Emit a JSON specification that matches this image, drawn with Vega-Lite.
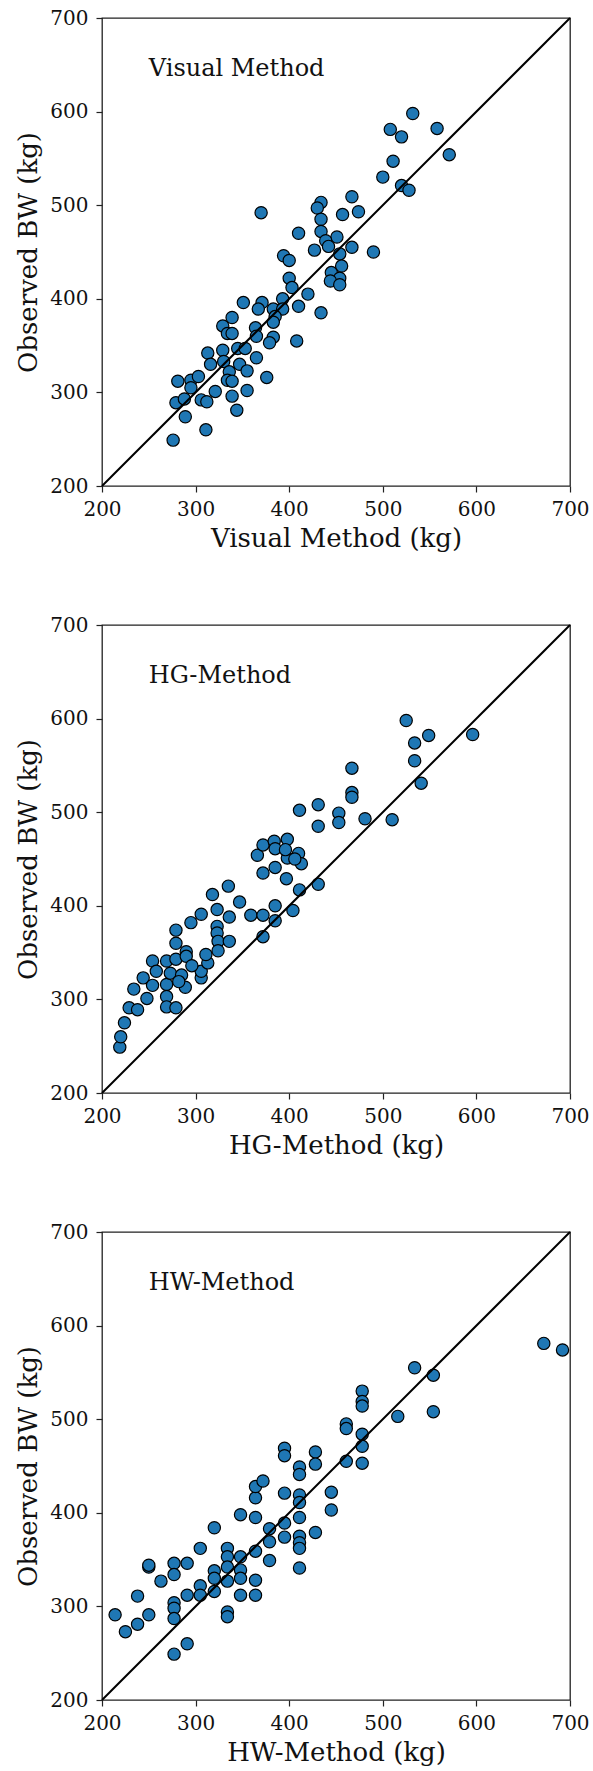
{
  "$schema": "https://vega.github.io/schema/vega-lite/v6.json",
  "background": "white",
  "padding": {"left": 15, "top": 7, "right": 0, "bottom": 0},
  "autosize": {"type": "pad"},
  "bounds": "flush",
  "spacing": 139,
  "datasets": {
    "visual": [
      {"x":370,"y":492},{"x":434,"y":503},{"x":430,"y":497},{"x":467,"y":509},{"x":474,"y":493},{"x":457,"y":490},{"x":434,"y":485},{"x":410,"y":470},{"x":434,"y":472},{"x":451,"y":466},{"x":439,"y":462},{"x":427,"y":452},{"x":442,"y":456},{"x":467,"y":455},{"x":490,"y":450},{"x":454,"y":448},{"x":394,"y":446},{"x":400,"y":441},{"x":456,"y":435},{"x":445,"y":428},{"x":454,"y":422},{"x":444,"y":419},{"x":454,"y":415},{"x":400,"y":422},{"x":403,"y":412},{"x":420,"y":405},{"x":393,"y":400},{"x":351,"y":396},{"x":371,"y":396},{"x":367,"y":389},{"x":383,"y":389},{"x":393,"y":389},{"x":410,"y":392},{"x":434,"y":385},{"x":339,"y":380},{"x":385,"y":381},{"x":383,"y":375},{"x":329,"y":371},{"x":364,"y":369},{"x":334,"y":363},{"x":339,"y":363},{"x":365,"y":360},{"x":383,"y":359},{"x":379,"y":353},{"x":408,"y":355},{"x":313,"y":342},{"x":329,"y":345},{"x":345,"y":347},{"x":353,"y":347},{"x":316,"y":330},{"x":330,"y":333},{"x":347,"y":330},{"x":365,"y":337},{"x":336,"y":322},{"x":355,"y":323},{"x":334,"y":313},{"x":339,"y":312},{"x":376,"y":316},{"x":281,"y":312},{"x":295,"y":313},{"x":303,"y":317},{"x":295,"y":305},{"x":279,"y":289},{"x":288,"y":293},{"x":306,"y":292},{"x":312,"y":290},{"x":321,"y":301},{"x":339,"y":296},{"x":355,"y":302},{"x":289,"y":274},{"x":344,"y":281},{"x":311,"y":260},{"x":276,"y":249},
      {"x":532,"y":598},{"x":508,"y":581},{"x":520,"y":573},{"x":558,"y":582},{"x":571,"y":554},{"x":511,"y":547},{"x":500,"y":530},{"x":520,"y":521},{"x":528,"y":516}
    ],
    "hg": [
      {"x":219,"y":249},{"x":220,"y":260},{"x":224,"y":275},{"x":229,"y":291},{"x":238,"y":289},{"x":234,"y":311},{"x":248,"y":301},{"x":244,"y":323},{"x":254,"y":315},{"x":254,"y":341},{"x":258,"y":330},{"x":269,"y":341},{"x":269,"y":316},{"x":273,"y":328},{"x":279,"y":343},{"x":279,"y":360},{"x":279,"y":374},{"x":290,"y":351},{"x":290,"y":346},{"x":285,"y":326},{"x":289,"y":313},{"x":269,"y":303},{"x":269,"y":292},{"x":279,"y":291},{"x":306,"y":323},{"x":306,"y":330},{"x":313,"y":339},{"x":311,"y":348},{"x":295,"y":382},{"x":306,"y":391},{"x":318,"y":412},{"x":323,"y":396},{"x":323,"y":378},{"x":323,"y":371},{"x":324,"y":362},{"x":324,"y":352},{"x":336,"y":388},{"x":336,"y":362},{"x":335,"y":421},{"x":347,"y":404},{"x":359,"y":390},{"x":372,"y":390},{"x":372,"y":367},{"x":385,"y":400},{"x":385,"y":384},{"x":404,"y":395},{"x":397,"y":429},{"x":411,"y":417},{"x":372,"y":435},{"x":366,"y":454},{"x":372,"y":465},{"x":384,"y":469},{"x":385,"y":461},{"x":398,"y":471},{"x":398,"y":451},{"x":385,"y":441},{"x":410,"y":456},{"x":413,"y":445},{"x":406,"y":450},{"x":396,"y":460},{"x":296,"y":336},{"x":282,"y":319},
      {"x":525,"y":598},{"x":534,"y":574},{"x":549,"y":582},{"x":596,"y":583},{"x":534,"y":555},{"x":541,"y":531},{"x":467,"y":547},{"x":467,"y":521},{"x":467,"y":516},{"x":411,"y":502},{"x":431,"y":508},{"x":431,"y":485},{"x":453,"y":499},{"x":453,"y":489},{"x":481,"y":493},{"x":510,"y":492},{"x":431,"y":423}
    ],
    "hw": [
      {"x":214,"y":291},{"x":225,"y":273},{"x":238,"y":281},{"x":238,"y":311},{"x":250,"y":291},{"x":250,"y":342},{"x":250,"y":344},{"x":263,"y":327},{"x":277,"y":346},{"x":277,"y":334},{"x":277,"y":304},{"x":277,"y":298},{"x":277,"y":287},{"x":277,"y":249},{"x":291,"y":260},{"x":291,"y":346},{"x":291,"y":312},{"x":305,"y":362},{"x":305,"y":322},{"x":305,"y":312},{"x":320,"y":384},{"x":320,"y":338},{"x":320,"y":330},{"x":320,"y":316},{"x":334,"y":362},{"x":334,"y":353},{"x":334,"y":342},{"x":334,"y":327},{"x":334,"y":294},{"x":334,"y":289},{"x":348,"y":353},{"x":348,"y":339},{"x":348,"y":330},{"x":348,"y":312},{"x":348,"y":398},{"x":364,"y":395},{"x":364,"y":416},{"x":364,"y":428},{"x":372,"y":434},{"x":364,"y":359},{"x":364,"y":328},{"x":364,"y":312},{"x":379,"y":383},{"x":379,"y":369},{"x":379,"y":349},{"x":395,"y":421},{"x":395,"y":389},{"x":395,"y":374},{"x":395,"y":469},{"x":395,"y":461},{"x":411,"y":449},{"x":411,"y":441},{"x":411,"y":419},{"x":411,"y":411},{"x":411,"y":395},{"x":411,"y":375},{"x":411,"y":368},{"x":411,"y":362},{"x":411,"y":341},{"x":428,"y":465},{"x":428,"y":452},{"x":428,"y":379},{"x":445,"y":422},{"x":445,"y":403},{"x":461,"y":495},{"x":461,"y":490},{"x":461,"y":455},{"x":478,"y":530},{"x":478,"y":519},{"x":478,"y":514},{"x":478,"y":484},{"x":478,"y":471},{"x":478,"y":453},
      {"x":672,"y":581},{"x":692,"y":574},{"x":534,"y":555},{"x":554,"y":547},{"x":554,"y":508},{"x":516,"y":503}
    ],
    "diag": [{"x":200,"y":200},{"x":700,"y":700}],
    "one": [{"x":250,"y":638}]
  },
  "config": {
    "view": {"stroke": "#222222", "strokeWidth": 1.3},
    "font": "DejaVu Serif",
    "axis": {
      "labelFont": "DejaVu Serif", "labelFontSize": 20, "labelColor": "#111111",
      "titleFont": "DejaVu Serif", "titleFontSize": 26, "titleFontWeight": "normal", "titleColor": "#111111",
      "tickColor": "#222222", "tickSize": 6, "tickWidth": 1.2, "domain": false, "grid": false,
      "labelFlush": false, "labelOverlap": false, "labelPadding": 7
    },
    "axisY": {"titlePadding": 8, "labelPadding": 8},
    "axisX": {"titlePadding": 6}
  },
  "vconcat": [
    {
      "width": 468, "height": 468,
      "layer": [
        {
          "data": {"name": "visual"},
          "mark": {"type": "circle", "size": 150, "fill": "#1f77b4", "stroke": "black", "strokeWidth": 1.2, "opacity": 1},
          "encoding": {
            "x": {"field": "x", "type": "quantitative", "scale": {"domain": [200, 700], "nice": false}, "axis": {"title": "Visual Method (kg)", "values": [200, 300, 400, 500, 600, 700]}},
            "y": {"field": "y", "type": "quantitative", "scale": {"domain": [200, 700], "nice": false}, "axis": {"title": "Observed BW (kg)", "values": [200, 300, 400, 500, 600, 700]}}
          }
        },
        {
          "data": {"name": "diag"},
          "mark": {"type": "line", "color": "black", "strokeWidth": 2},
          "encoding": {"x": {"field": "x", "type": "quantitative"}, "y": {"field": "y", "type": "quantitative"}}
        },
        {
          "data": {"name": "one"},
          "mark": {"type": "text", "text": "Visual Method", "align": "left", "baseline": "alphabetic", "font": "DejaVu Serif", "fontSize": 24, "color": "#111111"},
          "encoding": {"x": {"field": "x", "type": "quantitative"}, "y": {"field": "y", "type": "quantitative"}}
        }
      ]
    },
    {
      "width": 468, "height": 468,
      "layer": [
        {
          "data": {"name": "hg"},
          "mark": {"type": "circle", "size": 150, "fill": "#1f77b4", "stroke": "black", "strokeWidth": 1.2, "opacity": 1},
          "encoding": {
            "x": {"field": "x", "type": "quantitative", "scale": {"domain": [200, 700], "nice": false}, "axis": {"title": "HG-Method (kg)", "values": [200, 300, 400, 500, 600, 700]}},
            "y": {"field": "y", "type": "quantitative", "scale": {"domain": [200, 700], "nice": false}, "axis": {"title": "Observed BW (kg)", "values": [200, 300, 400, 500, 600, 700]}}
          }
        },
        {
          "data": {"name": "diag"},
          "mark": {"type": "line", "color": "black", "strokeWidth": 2},
          "encoding": {"x": {"field": "x", "type": "quantitative"}, "y": {"field": "y", "type": "quantitative"}}
        },
        {
          "data": {"name": "one"},
          "mark": {"type": "text", "text": "HG-Method", "align": "left", "baseline": "alphabetic", "font": "DejaVu Serif", "fontSize": 24, "color": "#111111"},
          "encoding": {"x": {"field": "x", "type": "quantitative"}, "y": {"field": "y", "type": "quantitative"}}
        }
      ]
    },
    {
      "width": 468, "height": 468,
      "layer": [
        {
          "data": {"name": "hw"},
          "mark": {"type": "circle", "size": 150, "fill": "#1f77b4", "stroke": "black", "strokeWidth": 1.2, "opacity": 1},
          "encoding": {
            "x": {"field": "x", "type": "quantitative", "scale": {"domain": [200, 700], "nice": false}, "axis": {"title": "HW-Method (kg)", "values": [200, 300, 400, 500, 600, 700]}},
            "y": {"field": "y", "type": "quantitative", "scale": {"domain": [200, 700], "nice": false}, "axis": {"title": "Observed BW (kg)", "values": [200, 300, 400, 500, 600, 700]}}
          }
        },
        {
          "data": {"name": "diag"},
          "mark": {"type": "line", "color": "black", "strokeWidth": 2},
          "encoding": {"x": {"field": "x", "type": "quantitative"}, "y": {"field": "y", "type": "quantitative"}}
        },
        {
          "data": {"name": "one"},
          "mark": {"type": "text", "text": "HW-Method", "align": "left", "baseline": "alphabetic", "font": "DejaVu Serif", "fontSize": 24, "color": "#111111"},
          "encoding": {"x": {"field": "x", "type": "quantitative"}, "y": {"field": "y", "type": "quantitative"}}
        }
      ]
    }
  ]
}
